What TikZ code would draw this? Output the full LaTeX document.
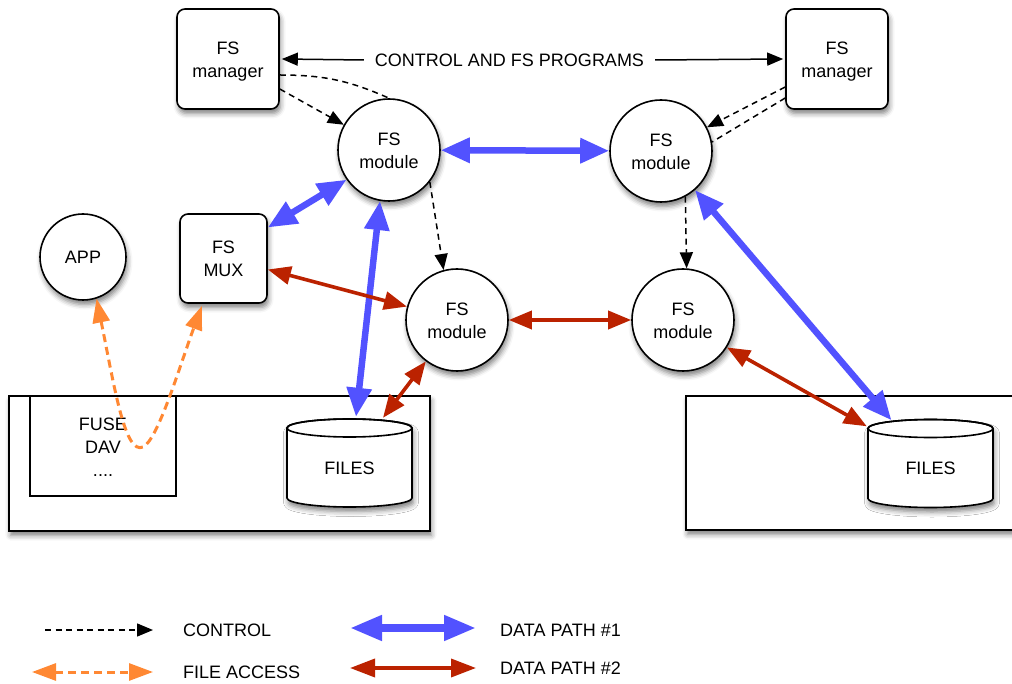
\documentclass[tikz,border=0pt]{standalone}
\usepackage{fontspec}
\setmainfont{Liberation Sans}
\usetikzlibrary{arrows.meta,shadows,shadows.blur}

\definecolor{dpblue}{RGB}{82,82,255}
\definecolor{dpred}{RGB}{187,34,0}
\definecolor{faorange}{RGB}{255,136,51}

\tikzset{
  sh/.style={blur shadow={shadow xshift=1.5pt,shadow yshift=-4.5pt,shadow blur radius=5pt,shadow opacity=50}},
  mgrbox/.style={draw,line width=1.6pt,rounded corners=8pt,fill=white,sh,align=center,
    minimum width=102pt,minimum height=100pt,inner sep=0pt},
  modcirc/.style={draw,circle,line width=1.6pt,fill=white,sh,align=center,minimum size=102pt,inner sep=0pt},
  hostbox/.style={draw,line width=1.6pt,fill=white,sh,inner sep=0pt},
  plainbox/.style={draw,line width=1.6pt,fill=white,inner sep=0pt,align=center},
  ctl/.style={line width=1.5pt,-{Triangle[length=16pt,width=13pt]}},
  ctldash/.style={ctl,dash pattern=on 6pt off 4.5pt},
  ctlline/.style={line width=1.5pt,dash pattern=on 6pt off 4.5pt},
  dpone/.style={line width=6.5pt,draw=dpblue,{Triangle[length=29pt,width=24pt]}-{Triangle[length=29pt,width=24pt]}},
  dptwo/.style={line width=3.6pt,draw=dpred,{Triangle[length=23pt,width=18pt]}-{Triangle[length=23pt,width=18pt]}},
  faccess/.style={line width=3pt,draw=faorange,dash pattern=on 8pt off 5pt,
    {Triangle[length=24pt,width=17pt]}-{Triangle[length=24pt,width=17pt]}},
  legtext/.style={anchor=west,inner sep=0pt},
  pics/store/.style={code={
    \draw[line width=1.6pt,fill=white,sh] (-62.5,35) -- (-62.5,-35)
      arc[start angle=180,end angle=360,x radius=62.5,y radius=9] -- (62.5,35)
      arc[start angle=0,end angle=180,x radius=62.5,y radius=9] -- cycle;
    \draw[line width=1.6pt] (0,35) ellipse[x radius=62.5,y radius=9];
    \node[inner sep=0pt,minimum width=125pt,minimum height=88pt] (-body) at (0,0) {};
    \node (-text) at (0,-5) {FILES};
  }}
}

\begin{document}
\begin{tikzpicture}[x=1pt,y=1pt,font=\fontsize{18}{23}\selectfont]
\useasboundingbox (0,0) rectangle (1012,-684);

% hosts with their file stores
\node[hostbox,minimum width=421pt,minimum height=135pt] (hostL) at (219.5,-463.5) {};
\node[hostbox,minimum width=330pt,minimum height=134pt] (hostR) at (851,-463) {};
\node[plainbox,minimum width=146pt,minimum height=100pt] (fuse) at (103,-446) {\rule{0pt}{15pt}FUSE\\DAV\\....};
\pic (cylL) at (349.5,-463) {store};
\pic (cylR) at (930.5,-463.5) {store};

% managers, modules and clients
\node[mgrbox] (mgrL) at (228,-59) {\rule{0pt}{17pt}FS\\manager};
\node[mgrbox] (mgrR) at (837,-59) {\rule{0pt}{17pt}FS\\manager};
\node[modcirc] (mTL) at (389,-150) {\rule{0pt}{15pt}FS\\module};
\node[modcirc] (mTR) at (661,-151) {\rule{0pt}{15pt}FS\\module};
\node[modcirc] (mML) at (457,-320) {\rule{0pt}{15pt}FS\\module};
\node[modcirc] (mMR) at (683,-320) {\rule{0pt}{15pt}FS\\module};
\node[modcirc,minimum size=86pt] (app) at (83,-257) {APP};
\node[mgrbox,minimum width=87pt,minimum height=89pt] (mux) at (223.5,-258.5) {FS\\MUX};

% control programs
\node[inner xsep=11pt] (lbl) at (509.5,-60) {CONTROL AND FS PROGRAMS};
\draw[ctl] (lbl.west) -- ([xshift=2pt]mgrL.east);
\draw[ctl] (lbl.east) -- ([xshift=-2pt]mgrR.west);

% control links
\draw[ctlline] ([yshift=-16pt]mgrL.east) to[bend left=12] (mTL.north);
\draw[ctldash] ([yshift=-30pt]mgrL.east) -- (mTL);
\draw[ctldash] ([yshift=-28pt]mgrR.west) -- (mTR);
\draw[ctlline] ([yshift=-39pt]mgrR.west) -- (mTR.10);
\draw[ctldash] (mTL.-38) -- (mML.105);
\draw[ctldash] (mTR.-62) -- (mMR.86);

% data path 1
\draw[dpone] (mTL) -- (mTR);
\draw[dpone] ([yshift=31pt]mux.east) -- (mTL.215);
\draw[dpone] ([xshift=6.5pt,yshift=2pt]cylL-body.north) -- (mTL.260);
\draw[dpone] (mTR.-49) -- ([xshift=-39pt,yshift=-1pt]cylR-body.north);

% data path 2
\draw[dptwo] ([yshift=-11pt]mux.east) -- (mML.165);
\draw[dptwo] ([xshift=33.5pt,yshift=1pt]cylL-body.north) -- (mML.233);
\draw[dptwo] (mML) -- (mMR);
\draw[dptwo] (mMR.-32) -- ([xshift=-1pt,yshift=-7pt]cylR-body.north west);

% file access through the host mount
\draw[faccess] (app.-72) .. controls (115,-390) and (125,-455) .. (143,-447)
  .. controls (158,-440) and (180,-365) .. ([xshift=-21.5pt,yshift=-2pt]mux.south);

% legend
\coordinate (lgA1) at (45,-630);  \coordinate (lgA2) at (153,-630);
\coordinate (lgB1) at (32,-672);  \coordinate (lgB2) at (153,-672);
\coordinate (lgC1) at (350,-628); \coordinate (lgC2) at (476,-628);
\coordinate (lgD1) at (350,-668); \coordinate (lgD2) at (476,-668);
\draw[ctldash] (lgA1) -- (lgA2);
\draw[faccess] (lgB1) -- (lgB2);
\draw[dpone,line width=7.5pt,{Triangle[length=32pt,width=24pt]}-{Triangle[length=32pt,width=24pt]}] (lgC1) -- (lgC2);
\draw[dptwo,{Triangle[length=25pt,width=18pt]}-{Triangle[length=25pt,width=18pt]}] (lgD1) -- (lgD2);
\node[legtext] (tA) at (183,-630) {CONTROL};
\node[legtext] (tB) at (183,-672) {FILE ACCESS};
\node[legtext] (tC) at (500,-630) {DATA PATH \#1};
\node[legtext] (tD) at (500,-668) {DATA PATH \#2};
\end{tikzpicture}
\end{document}
